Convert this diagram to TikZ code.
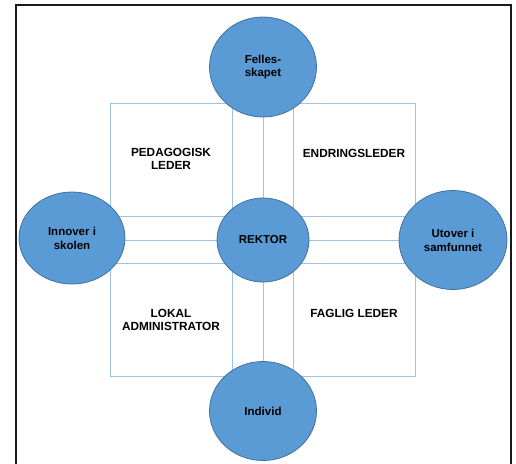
\documentclass[tikz,border=0pt]{standalone}
\usepackage{fontspec}
\setmainfont{Liberation Sans}
\usetikzlibrary{shapes.geometric}
\definecolor{ellfill}{HTML}{5B9BD5}
\definecolor{elldraw}{HTML}{41719C}
\definecolor{lineblue}{HTML}{9DC3E6}
\tikzset{
  ell/.style={ellipse, draw=elldraw, line width=0.8pt, fill=ellfill, inner sep=0pt, align=center,
    font=\bfseries\fontsize{11.5}{13.8}\selectfont},
  boxnode/.style={rectangle, draw=lineblue, line width=1pt, fill=white, inner sep=0pt},
  boxtext/.style={align=center, inner sep=0pt, font=\bfseries\fontsize{11.8}{13.2}\selectfont},
  ln/.style={draw=lineblue, line width=1pt},
  frame/.style={draw=black!90, line width=1.6pt}
}
\begin{document}
\begin{tikzpicture}[x=1pt,y=-1pt]
\useasboundingbox (0,0) rectangle (516,463);
% frame
\coordinate (f1) at (16,470);
\coordinate (f2) at (16,5);
\coordinate (f3) at (511,5);
\coordinate (f4) at (511,470);
\draw[frame] (f1) -- (f2) -- (f3) -- (f4);
% ellipse anchors (placed first for lines)
\coordinate (cT) at (263,67);
\coordinate (cB) at (263,411);
\coordinate (cL) at (72,238);
\coordinate (cR) at (453,240);
% horizontal strip lines
\draw[ln] ([yshift=24pt]cR |- 0,240) -- ([yshift=24pt]cL |- 0,240);
\draw[ln] (cR |- 0,240) -- (cL |- 0,240);
\draw[ln] ([yshift=-23pt]cR |- 0,240) -- ([yshift=-23pt]cL |- 0,240);
% vertical center line
\draw[ln] (cT) -- (cB);
% boxes
\node[boxnode, minimum width=122pt, minimum height=113pt] (pb) at (171,159.5) {};
\node[boxnode, minimum width=122pt, minimum height=113pt] (eb) at (354,159.5) {};
\node[boxnode, minimum width=122pt, minimum height=113pt] (lb) at (171,319.5) {};
\node[boxnode, minimum width=122pt, minimum height=113pt] (fb) at (354,319.5) {};
% box texts
\node[boxtext] (pt) at (171,159) {PEDAGOGISK\\LEDER};
\node[boxtext] (et) at (354,153) {ENDRINGSLEDER};
\node[boxtext] (lt) at (171,320) {LOKAL\\ADMINISTRATOR};
\node[boxtext] (ft) at (354,313) {FAGLIG LEDER};
% ellipses
\node[ell, minimum width=107pt, minimum height=100pt] (T) at (cT) {Felles-\\skapet};
\node[ell, minimum width=107pt, minimum height=99pt] (B) at (cB) {Individ};
\node[ell, minimum width=106pt, minimum height=92pt] (L) at (cL) {Innover i\\skolen};
\node[ell, minimum width=108pt, minimum height=99pt] (R) at (cR) {Utover i\\samfunnet};
\node[ell, minimum width=92pt, minimum height=84pt] (C) at (263,240) {REKTOR};
\end{tikzpicture}
\end{document}
